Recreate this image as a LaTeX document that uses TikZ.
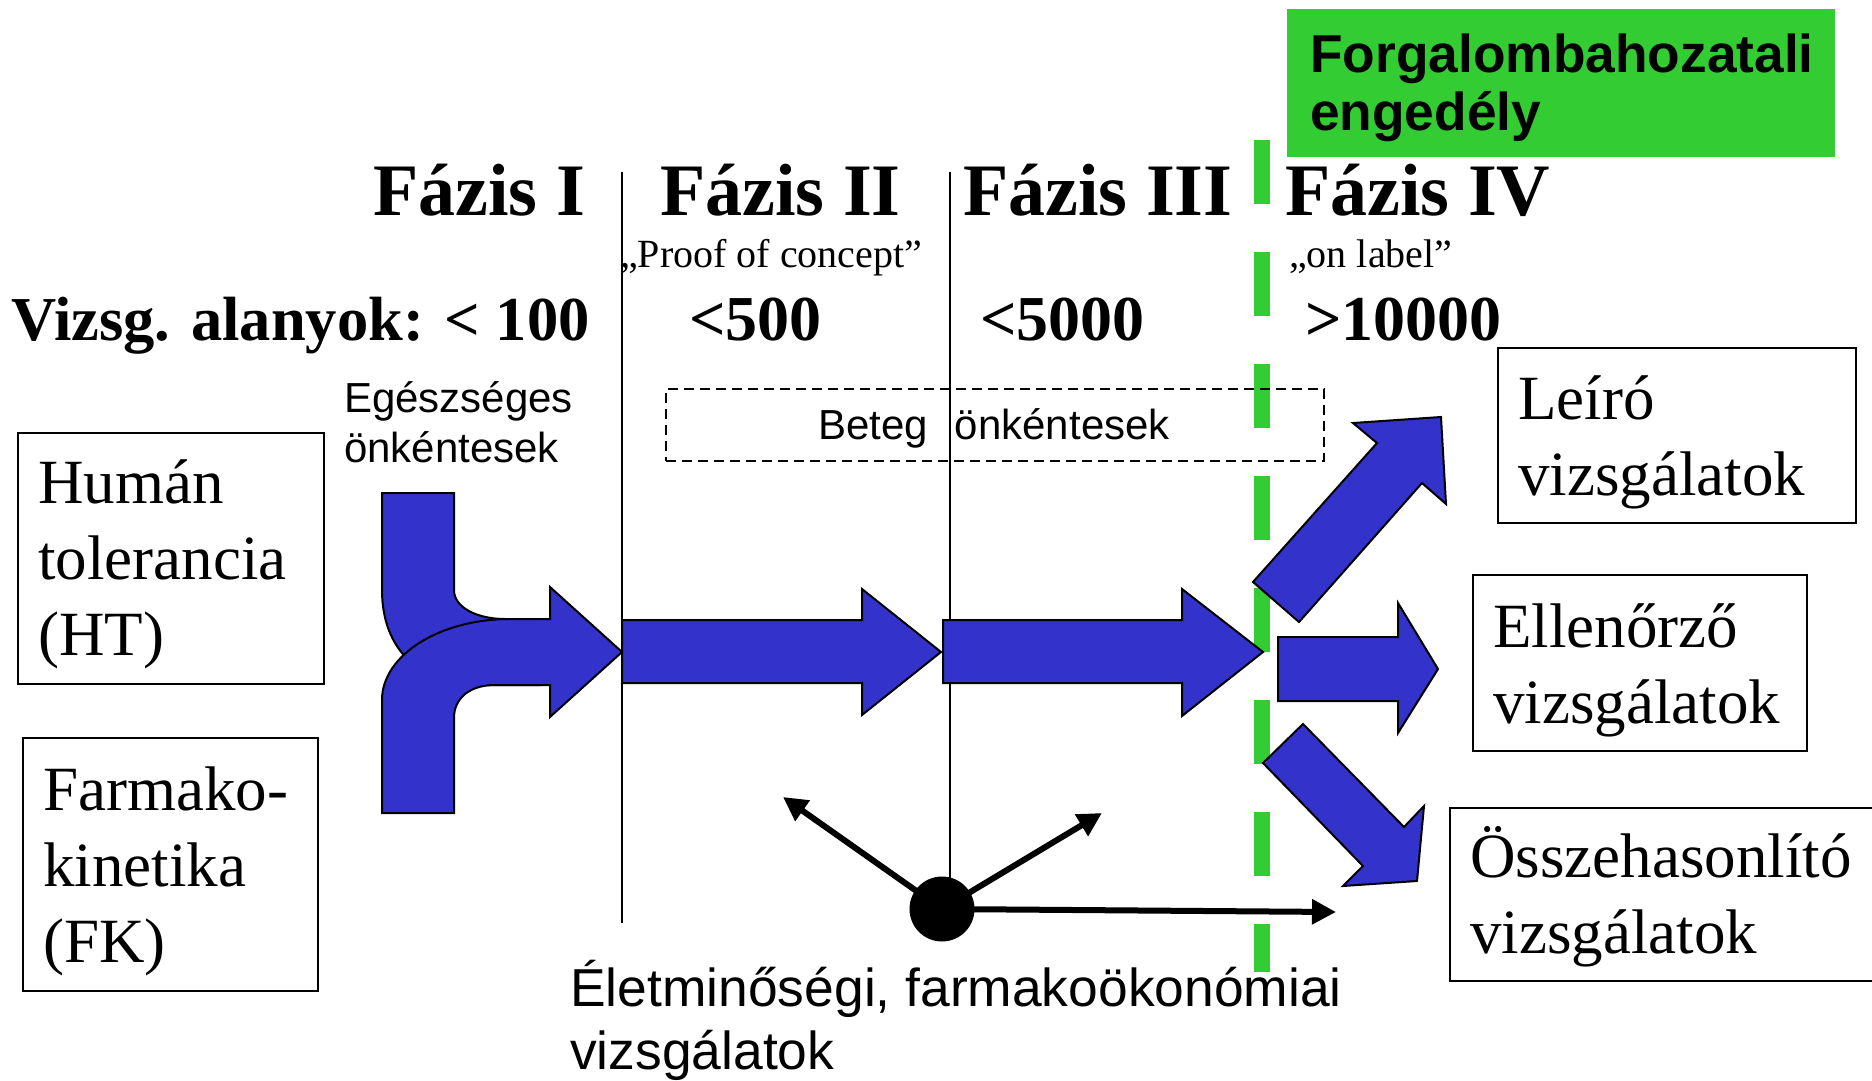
\documentclass[tikz,border=0pt]{standalone}
\usepackage{fontspec}
\setmainfont{Liberation Serif}
\newfontfamily\sansfam{Liberation Sans}
\usepackage{tikz}
\usetikzlibrary{arrows.meta}

\definecolor{arrowblue}{RGB}{51,51,204}
\definecolor{permitgreen}{RGB}{51,204,51}

\begin{document}
\begin{tikzpicture}[x=1pt, y=-1pt,
    phase/.style={font=\fontsize{74}{80}\selectfont\bfseries, anchor=base west, inner sep=0pt},
    count/.style={font=\fontsize{64}{70}\selectfont\bfseries, anchor=base west, inner sep=0pt},
    subtitle/.style={font=\fontsize{40}{44}\selectfont, anchor=base west, inner sep=0pt},
    boxtext/.style={font=\fontsize{63}{76}\selectfont, align=left, anchor=base west, inner sep=0pt},
    sanstext/.style={font=\sansfam\fontsize{42}{50}\selectfont, align=left, anchor=base west, inner sep=0pt},
    studybox/.style={draw, line width=2pt, anchor=north west, inner sep=0pt},
    bigarrow/.style={fill=arrowblue, draw=black, line width=2pt, line join=miter},
    qolarrow/.style={-{Triangle[length=24pt, width=24pt]}, line width=6pt},
    phaseline/.style={line width=2pt}
]
    \useasboundingbox (0,0) rectangle (1872,1081);

    % Marketing authorisation (base = last line)
    \node[fill=permitgreen, anchor=north west, inner sep=0pt,
          minimum width=548pt, minimum height=148pt] (permit) at (1287,9) {};
    \node[font=\sansfam\bfseries\fontsize{53.3}{58}\selectfont, align=left,
          anchor=base west, inner sep=0pt] (permittext)
          at ([xshift=23pt, yshift=-121pt]permit.north west) {Forgalombahozatali\\engedély};
    \draw[permitgreen, line width=16pt, dash pattern=on 64pt off 48pt] (1262,140) -- (1262,972);

    % Phase borders
    \draw[phaseline] (622,172) -- (622,923);
    \draw[phaseline] (950,172) -- (950,885);

    % Phase titles
    \node[phase] (ph1) at (373,215) {Fázis I};
    \node[phase] (ph2) at (660,215) {Fázis II};
    \node[phase] (ph3) at (963,215) {Fázis III};
    \node[phase] (ph4) at (1285,215) {Fázis IV};
    \node[subtitle] (poc) at (620,267) {„Proof of concept”};
    \node[subtitle] (onlabel) at (1289,267) {„on label”};

    % Number of subjects
    \node[count, font=\fontsize{62.5}{70}\selectfont\bfseries] (n1) at (11,340) {Vizsg. alanyok: < 100};
    \node[count] (n2) at (689,340) {<500};
    \node[count] (n3) at (980,340) {<5000};
    \node[count] (n4) at (1305,340) {>10000};

    % Volunteers
    \node[sanstext] (healthy) at (344,462) {Egészséges\\önkéntesek};
    \node[draw, dash pattern=on 10pt off 6pt, line width=2pt, anchor=north west, inner sep=0pt,
          minimum width=658pt, minimum height=72pt] (patients) at (665,388) {};
    \node[sanstext] (patientstext) at ([xshift=153pt, yshift=-51pt]patients.north west)
          {Beteg\hspace{27pt}önkéntesek};

    % Phase I studies
    \node[studybox, minimum width=306pt, minimum height=251pt] (ht) at (17,432) {};
    \node[boxtext] (httext) at ([xshift=21pt, yshift=-223pt]ht.north west) {Humán\\tolerancia\\(HT)};
    \node[studybox, minimum width=295pt, minimum height=253pt] (fk) at (22,737) {};
    \node[boxtext] (fktext) at ([xshift=21pt, yshift=-225pt]fk.north west) {Farmako-\\kinetika\\(FK)};

    % Phase IV studies
    \node[studybox, minimum width=358pt, minimum height=175pt] (desc) at (1497,347) {};
    \node[boxtext] (desctext) at ([xshift=21pt, yshift=-148pt]desc.north west) {Leíró\\vizsgálatok};
    \node[studybox, minimum width=334pt, minimum height=176pt] (ctrl) at (1472,574) {};
    \node[boxtext] (ctrltext) at ([xshift=21pt, yshift=-149pt]ctrl.north west) {Ellenőrző\\vizsgálatok};
    \node[studybox, minimum width=440pt, minimum height=173pt] (comp) at (1449,807) {};
    \node[boxtext] (comptext) at ([xshift=21pt, yshift=-146pt]comp.north west) {Összehasonlító\\vizsgálatok};

    % Merging arrow of phase I
    \draw[bigarrow] (382,493) -- (454,493) -- (454,590)
        .. controls (454,608) and (478,619) .. (505,619) -- (540,619) -- (540,685) -- (480,685)
        .. controls (420,685) and (382,650) .. (382,590) -- cycle;
    \draw[bigarrow] (382,813) -- (382,700)
        .. controls (382,655) and (440,619) .. (510,619) -- (550,619) -- (550,587)
        -- (622,652) -- (550,717) -- (550,685) -- (495,685)
        .. controls (470,685) and (454,698) .. (454,718) -- (454,813) -- cycle;

    % Phase II and III arrows
    \draw[bigarrow] (622,620) -- (862,620) -- (862,589) -- (941,652) -- (862,715) -- (862,683) -- (622,683) -- cycle;
    \draw[bigarrow] (943,620) -- (1182,620) -- (1182,589) -- (1263,652) -- (1182,716) -- (1182,683) -- (943,683) -- cycle;

    % Phase IV arrows
    \draw[bigarrow] (1253,582) -- (1377,443) -- (1353,423) -- (1441,417) -- (1446,504) -- (1422,483) -- (1299,622) -- cycle;
    \draw[bigarrow] (1278,637) -- (1398,637) -- (1398,603) -- (1438,669) -- (1398,733) -- (1398,701) -- (1278,701) -- cycle;
    \draw[bigarrow] (1263,763) -- (1303,724) -- (1404,827) -- (1424,806) -- (1417,881) -- (1343,886) -- (1363,866) -- cycle;

    % Quality of life studies
    \node[circle, fill=black, minimum size=65pt, inner sep=0pt] (qol) at (942,909) {};
    \coordinate (qolback) at (783,797);
    \coordinate (qolup) at (1102,813);
    \coordinate (qolright) at (1336,912);
    \draw[qolarrow] (qol.center) -- (qolback);
    \draw[qolarrow] (qol.center) -- (qolup);
    \draw[qolarrow] (qol.center) -- (qolright);
    \node[font=\sansfam\fontsize{53.4}{63}\selectfont, align=left, anchor=base west, inner sep=0pt]
        (qoltext) at (570,1069) {Életminőségi, farmakoökonómiai\\vizsgálatok};

\end{tikzpicture}
\end{document}
